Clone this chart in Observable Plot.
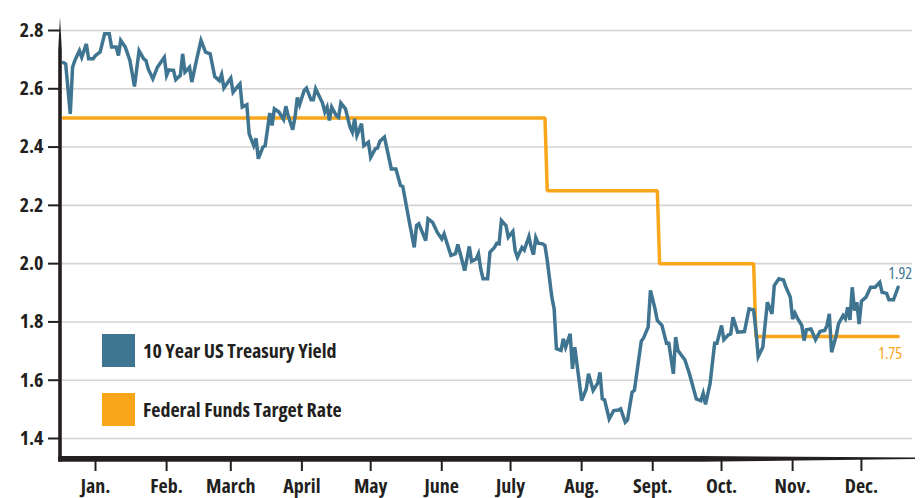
<!DOCTYPE html>
<html>
<head>
<meta charset="utf-8">
<script src="https://cdn.jsdelivr.net/npm/d3@7"></script>
<script src="https://cdn.jsdelivr.net/npm/@observablehq/plot@0.6"></script>
<style>
  html, body { margin: 0; padding: 0; background: #fff; }
  #wrap { position: relative; width: 921px; height: 498px; overflow: hidden; }
  .leg { position: absolute; left: 102px; display: flex; align-items: center; height: 33px;
         font-weight: bold; font-size: 20px; color: #231f20; white-space: nowrap; }
  .leg span { display: inline-block; transform-origin: 0 50%; }
  .sw { width: 33px; height: 33px; margin-right: 8px; flex: none; }
</style>
</head>
<body>
<div id="wrap"></div>
<script>
// ---------- data (2019) ----------
const monthLabels = ["Jan.","Feb.","March","April","May","June","July","Aug.","Sept.","Oct.","Nov.","Dec."];
const yTicks = [1.4, 1.6, 1.8, 2.0, 2.2, 2.4, 2.6, 2.8];

// 10 Year US Treasury Yield: day of year (0 = Jan 1) and value (%)
const yieldDay = [0,1,3,4,5,7,8,10,11,13,14,16,18,20,21,23,24,25,27,29,31,33,35,36,37,39,41,44,45,46,48,49,51,52,53,55,56,58,60,62,64,66,68,69,70,73,74,76,77,78,80,81,83,84,85,87,88,90,91,92,94,96,97,98,100,101,102,103,105,106,108,109,110,113,114,115,116,117,119,120,121,123,125,126,127,128,130,131,133,134,136,137,138,140,143,145,147,148,151,153,154,155,158,159,161,163,165,166,169,171,172,175,177,178,180,181,182,183,185,186,188,189,190,191,193,194,196,197,198,200,201,203,204,205,206,207,209,210,211,213,214,215,217,218,219,220,221,222,223,225,226,228,229,231,233,234,235,236,238,240,242,243,245,246,248,249,252,253,255,256,258,259,261,263,264,266,267,268,271,273,276,278,279,280,282,284,285,287,288,290,291,292,294,297,299,301,302,303,305,307,309,310,312,314,315,317,318,319,320,322,323,324,326,328,330,332,333,334,335,337,338,340,341,342,343,344,345,346,347,348,350,352,354,356,357,359,360,362,364];
const yieldPct = [2.69,2.685,2.514,2.674,2.697,2.731,2.708,2.754,2.703,2.703,2.714,2.726,2.789,2.789,2.743,2.743,2.714,2.766,2.743,2.697,2.608,2.731,2.703,2.697,2.668,2.634,2.674,2.708,2.646,2.665,2.663,2.631,2.646,2.72,2.657,2.674,2.623,2.697,2.766,2.726,2.72,2.642,2.628,2.649,2.603,2.637,2.588,2.608,2.617,2.537,2.545,2.445,2.405,2.43,2.36,2.40,2.405,2.517,2.474,2.531,2.52,2.495,2.54,2.508,2.46,2.502,2.57,2.545,2.594,2.602,2.562,2.562,2.6,2.551,2.52,2.537,2.491,2.537,2.508,2.502,2.551,2.531,2.468,2.451,2.497,2.44,2.48,2.405,2.417,2.365,2.394,2.397,2.42,2.434,2.325,2.325,2.268,2.265,2.137,2.056,2.131,2.137,2.079,2.154,2.142,2.108,2.085,2.102,2.028,2.034,2.066,1.976,2.059,2.008,2.016,2.034,1.982,1.948,1.948,2.039,2.056,2.07,2.068,2.148,2.131,2.091,2.111,2.045,2.022,2.056,2.047,2.093,2.056,2.031,2.089,2.07,2.068,2.062,2.011,1.885,1.845,1.708,1.702,1.742,1.713,1.736,1.759,1.639,1.713,1.593,1.53,1.57,1.622,1.565,1.59,1.627,1.536,1.533,1.467,1.496,1.498,1.502,1.456,1.464,1.559,1.565,1.734,1.745,1.782,1.908,1.845,1.805,1.788,1.727,1.727,1.622,1.748,1.702,1.67,1.622,1.536,1.53,1.555,1.517,1.588,1.727,1.727,1.788,1.739,1.756,1.759,1.816,1.765,1.767,1.845,1.841,1.77,1.681,1.713,1.868,1.828,1.925,1.948,1.944,1.921,1.885,1.81,1.83,1.814,1.788,1.736,1.773,1.776,1.739,1.768,1.771,1.788,1.828,1.696,1.753,1.793,1.822,1.811,1.85,1.807,1.919,1.839,1.868,1.793,1.871,1.885,1.919,1.919,1.936,1.902,1.898,1.876,1.876,1.919];

// Federal Funds Target Rate (upper bound): change points
const fedDay  = [0, 210, 211, 259, 260, 301, 302, 364];
const fedRate = [2.5, 2.5, 2.25, 2.25, 2.0, 2.0, 1.75, 1.75];

const seriesNames = ["10 Year US Treasury Yield", "Federal Funds Target Rate"];
const colors = ["#3f7591", "#faa61a"];

// ---------- font choice (condensed look) ----------
function measure(text, family, stretch, weight, size) {
  const s = document.createElement("span");
  s.style.cssText = `position:absolute;visibility:hidden;white-space:nowrap;font-family:${family};font-stretch:${stretch};font-weight:${weight};font-size:${size}px`;
  s.textContent = text;
  document.body.appendChild(s);
  const w = s.getBoundingClientRect().width;
  s.remove();
  return w;
}
let family = "'Open Sans', 'Liberation Sans', sans-serif", stretch = "75%";
if (measure("March Yield", family, "75%", 700, 100) > 0.9 * measure("March Yield", family, "100%", 700, 100)) {
  family = "'Liberation Sans', Arial, sans-serif"; stretch = "100%";
}
const kText = Math.min(1, 203 / measure(seriesNames[0], family, stretch, 700, 20));
const kNum  = Math.min(1, 26.5 / measure("2.8", family, stretch, 700, 20));
const kEnd  = Math.min(1, 25.5 / measure("1.92", family, stretch, 400, 16));

// ---------- build ----------
const toDate = d => new Date(Date.UTC(2019, 0, 1 + d));
const yieldData = yieldDay.map((d, i) => ({date: toDate(d), value: yieldPct[i]}));
const fedData = fedDay.map((d, i) => ({date: toDate(d), value: fedRate[i]}));
const monthTicks = d3.range(12).map(m => new Date(Date.UTC(2019, m, 15)));

const W = 921, H = 498, ML = 60, MR = 9, MT = 18, MB = 39;
const ink = "#231f20";

const svg = Plot.plot({
  width: W, height: H,
  marginLeft: ML, marginRight: MR, marginTop: MT, marginBottom: MB,
  x: {type: "utc", domain: [toDate(0), toDate(364)], range: [62.9, 897.6], label: null},
  y: {domain: [1.4, 2.8], range: [438, 30], label: null},
  style: {fontFamily: family, fontSize: "20px", fontWeight: "bold", color: ink, background: "#fff", overflow: "visible"},
  marks: [
    Plot.gridY(yTicks, {stroke: "#d3d3d3", strokeOpacity: 1, strokeWidth: 1.6}),
    Plot.axisY(yTicks, {tickSize: 12, tickPadding: 5, tickFormat: d3.format(".1f"), label: null, strokeWidth: 2, fontSize: 20, fontWeight: "bold", fill: ink}),
    Plot.axisX(monthTicks, {tickSize: 12, tickPadding: 7, tickFormat: d => monthLabels[d.getUTCMonth()], label: null, strokeWidth: 2, fontSize: 20, fontWeight: "bold", fill: ink}),
    Plot.line(fedData, {x: "date", y: "value", stroke: colors[1], strokeWidth: 3.5, strokeLinejoin: "miter"}),
    Plot.line(yieldData, {x: "date", y: "value", stroke: colors[0], strokeWidth: 3.5, strokeLinejoin: "miter", strokeMiterlimit: 4}),
    Plot.text([yieldData[yieldData.length - 1]], {x: "date", y: "value", text: d => d.value.toFixed(2), dx: 2, dy: -13, fill: colors[0], fontSize: 16, fontWeight: "normal"}),
    Plot.text([fedData[fedData.length - 1]], {x: "date", y: "value", text: d => d.value.toFixed(2), dx: -8, dy: 17, fill: colors[1], fontSize: 16, fontWeight: "normal"})
  ]
});
svg.style.fontStretch = stretch;

// horizontal squeeze of labels around their anchor
function squeeze(el, k) {
  if (k >= 0.999) return;
  const t = el.getAttribute("transform") || "";
  const x = +(el.getAttribute("x") || 0), y = +(el.getAttribute("y") || 0);
  el.removeAttribute("x"); el.removeAttribute("y");
  el.setAttribute("transform", `${t} translate(${x},${y}) scale(${k},1)`);
}
svg.querySelectorAll('g[aria-label="x-axis tick label"] text').forEach(el => squeeze(el, kText));
svg.querySelectorAll('g[aria-label="y-axis tick label"] text').forEach(el => squeeze(el, kNum));
svg.querySelectorAll('g[aria-label="text"] text').forEach(el => squeeze(el, kEnd));

// tapered axis frame (decoration)
const s = d3.select(svg);
const bottom = H - MB;
const right = W - MR;
s.append("path")
  .attr("fill", ink)
  .attr("d", `M${ML - 1.8},${bottom + 2.5} L${ML - 1.8},50 L${ML},17 L${ML + 1.8},50 L${ML + 1.8},${bottom + 2.5} Z`);
s.append("path")
  .attr("fill", ink)
  .attr("d", `M${ML - 1.8},${bottom - 3} L700,${bottom - 3} L${right + 3},${bottom - 1.5} L${right + 3},${bottom} L700,${bottom + 2.7} L${ML - 1.8},${bottom + 2.7} Z`);

const wrap = document.getElementById("wrap");
wrap.appendChild(svg);

// legend (inside plot area)
const legendTops = [334, 393];
seriesNames.forEach((name, i) => {
  const row = document.createElement("div");
  row.className = "leg";
  row.style.top = legendTops[i] + "px";
  row.style.fontFamily = family;
  row.style.fontStretch = stretch;
  const sw = document.createElement("div");
  sw.className = "sw";
  sw.style.background = colors[i];
  const label = document.createElement("span");
  label.textContent = name;
  label.style.transform = `scaleX(${kText})`;
  row.appendChild(sw);
  row.appendChild(label);
  wrap.appendChild(row);
});
</script>
</body>
</html>
